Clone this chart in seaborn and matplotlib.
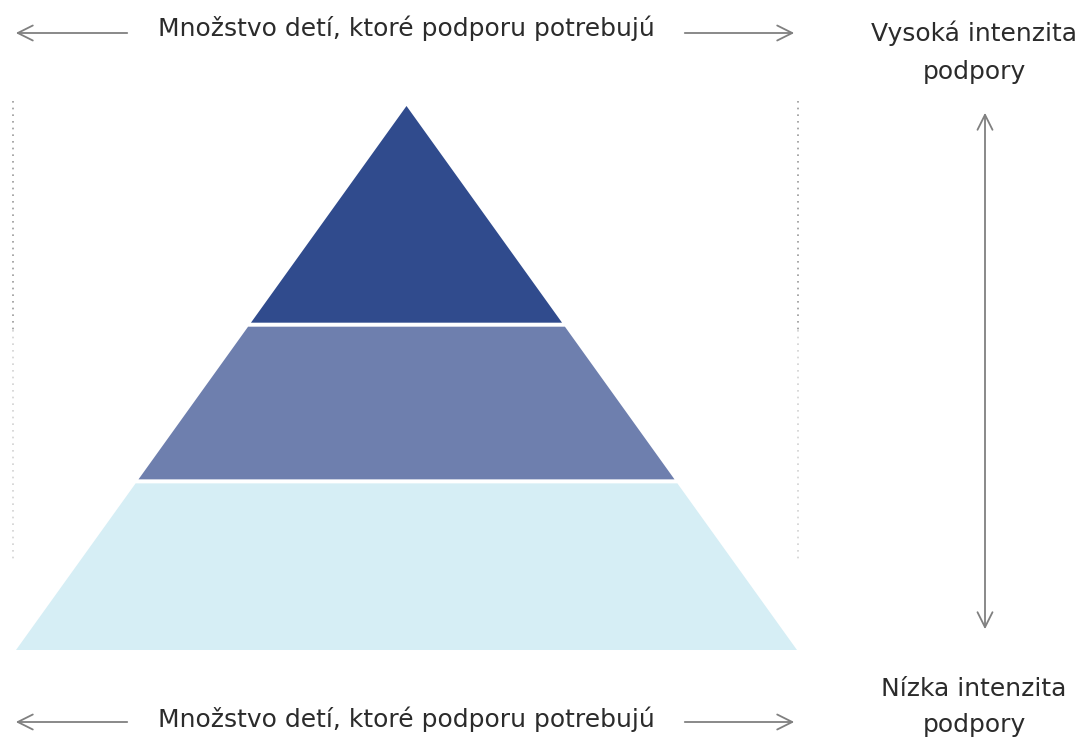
import matplotlib
matplotlib.use("Agg")
import matplotlib.pyplot as plt
import seaborn as sns
import numpy as np

# ---- data ----
levels = ["Vysoká intenzita", "Stredná intenzita", "Nízka intenzita"]
band_edges = [0.0, 0.402, 0.690, 1.0]          # fraction of pyramid height (from apex)
band_colors = ["#304B8D", "#6E7FAE", "#D6EEF5"]
top_label = "Množstvo detí, ktoré podporu potrebujú"
bottom_label = "Množstvo detí, ktoré podporu potrebujú"
right_top_label = "Vysoká intenzita\npodpory"
right_bottom_label = "Nízka intenzita\npodpory"

sns.set_theme(style="white")
plt.rcParams['font.family'] = ['DejaVu Sans']

W, H = 1076, 741
fig = plt.figure(figsize=(W / 100, H / 100), dpi=100)
ax = fig.add_axes([0, 0, 1, 1])
ax.set_xlim(0, W)
ax.set_ylim(H, 0)
ax.axis("off")

# pyramid geometry (pixel space)
apex_x, apex_y = 406.5, 106
base_y, base_left, base_right = 650, 16, 797
height = base_y - apex_y
half_base = (base_right - base_left) / 2

def half_w(frac):
    return half_base * frac

gap = 4
for i, col in enumerate(band_colors):
    f0, f1 = band_edges[i], band_edges[i + 1]
    y0 = apex_y + f0 * height + (gap / 2 if i > 0 else 0)
    y1 = apex_y + f1 * height - (gap / 2 if i < len(band_colors) - 1 else 0)
    fy0 = (y0 - apex_y) / height
    fy1 = (y1 - apex_y) / height
    xs = [apex_x - half_w(fy0), apex_x + half_w(fy0), apex_x + half_w(fy1), apex_x - half_w(fy1)]
    ys = [y0, y0, y1, y1]
    ax.fill(xs, ys, color=col, lw=0)

# dotted guide lines
for x in (13, 798):
    ax.plot([x, x], [101, 330], ls=(0, (1, 3)), color="#9a9a9a", lw=1.2)
    ax.plot([x, x], [330, 560], ls=(0, (1, 3)), color="#d2d2d2", lw=1.2)

txt_color = "#2b2b2b"
arr_color = "#808080"
fs = 18

def harrows(y):
    ax.annotate("", xy=(13, y), xytext=(130, y),
                arrowprops=dict(arrowstyle="->,head_length=0.9,head_width=0.45", color=arr_color, lw=1.3))
    ax.annotate("", xy=(797, y), xytext=(682, y),
                arrowprops=dict(arrowstyle="->,head_length=0.9,head_width=0.45", color=arr_color, lw=1.3))

harrows(33)
ax.text(406, 28, top_label, ha="center", va="center", fontsize=fs, color=txt_color)
harrows(722)
ax.text(406, 719, bottom_label, ha="center", va="center", fontsize=fs, color=txt_color)

# vertical arrow
ax.annotate("", xy=(985, 110), xytext=(985, 632),
            arrowprops=dict(arrowstyle="<->,head_length=0.9,head_width=0.45", color=arr_color, lw=1.3))
ax.text(974, 52, right_top_label, ha="center", va="center", fontsize=fs, color=txt_color, linespacing=1.75)
ax.text(974, 707, right_bottom_label, ha="center", va="center", fontsize=fs, color=txt_color, linespacing=1.6)

fig.savefig("out.png", dpi=100, facecolor="white")
